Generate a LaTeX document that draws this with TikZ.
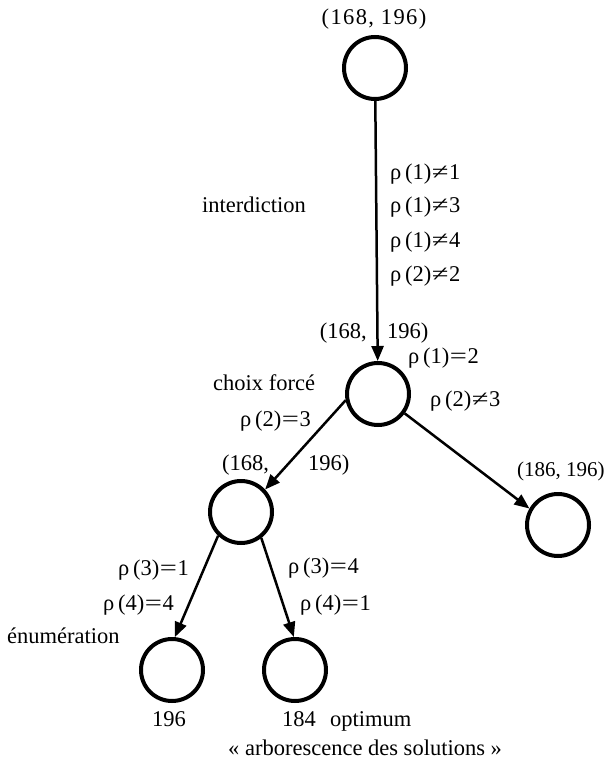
\documentclass[tikz,border=0pt]{standalone}
\usepackage{fontspec}
\usepackage{graphicx}
\setmainfont{Liberation Serif}
\newfontfamily\spacedfont[LetterSpace=6]{Liberation Serif}
\usetikzlibrary{arrows.meta}
\newcommand{\myne}{\kern0.5pt\scalebox{1.35}[1]{≠}\kern0.5pt}
\newcommand{\myeq}{\kern0.5pt\scalebox{1.35}[1]{=}\kern0.5pt}
\tikzset{
  circ/.style={circle, draw, line width=4pt, minimum size=62pt, inner sep=0pt},
  arr/.style={-{Triangle[length=15pt,width=12pt]}, line width=2.5pt},
  lbl/.style={font=\fontsize{22.5}{27}\selectfont, inner sep=0pt},
}
\begin{document}
\begin{tikzpicture}[x=1pt,y=-1pt]
\useasboundingbox (0,0) rectangle (606,759);
% circles
\node[circ] (c1) at (375,68) {};
\node[circ] (c2) at (378,394) {};
\node[circ] (c3) at (241,512) {};
\node[circ] (c4) at (172,670) {};
\node[circ] (c5) at (295,670) {};
\node[circ] (c6) at (558,525) {};
% connectors
\draw[arr] (c1) -- (c2);
\draw[arr] (c2.191) -- (c3.43);
\draw[arr] (c2.324) -- (c6.150);
\draw[arr] (c3.226) -- (c4.85);
\draw[arr] (c3.308) -- (c5.92);
% labels
\node[lbl, anchor=base, font=\spacedfont\fontsize{22.5}{27}\selectfont] (t1) at (374,25) {(168, 196)};
\node[lbl, anchor=base west] (tint) at (202,213) {interdiction};
\node[lbl, anchor=base west] (r1) at (390,180) {ρ\,(1)\myne 1};
\node[lbl, anchor=base west] (r2) at (390,213) {ρ\,(1)\myne 3};
\node[lbl, anchor=base west] (r3) at (390,247) {ρ\,(1)\myne 4};
\node[lbl, anchor=base west] (r4) at (390,281) {ρ\,(2)\myne 2};
\node[lbl, anchor=base east] (t2a) at (367,338) {(168,};
\node[lbl, anchor=base west] (t2b) at (387,338) {196)};
\node[lbl, anchor=base west] (r5) at (408,363) {ρ\,(1)\myeq 2};
\node[lbl, anchor=base west] (tcf) at (213,390) {choix forcé};
\node[lbl, anchor=base west] (r6) at (430,406) {ρ\,(2)\myne 3};
\node[lbl, anchor=base west] (r7) at (240,426) {ρ\,(2)\myeq 3};
\node[lbl, anchor=base west] (t3a) at (222,470) {(168,};
\node[lbl, anchor=base west] (t3b) at (308,470) {196)};
\node[lbl, anchor=base west, font=\fontsize{21}{25}\selectfont] (t6) at (517,476) {(186, 196)};
\node[lbl, anchor=base west] (r8) at (118,575) {ρ\,(3)\myeq 1};
\node[lbl, anchor=base west] (r9) at (103,610) {ρ\,(4)\myeq 4};
\node[lbl, anchor=base west] (r10) at (288,573) {ρ\,(3)\myeq 4};
\node[lbl, anchor=base west] (r11) at (300,610) {ρ\,(4)\myeq 1};
\node[lbl, anchor=base west] (tenum) at (7,643) {énumération};
\node[lbl, anchor=base] (v4) at (169,726) {196};
\node[lbl, anchor=base west] (v5) at (282,726) {184};
\node[lbl, anchor=base west] (topt) at (330,726) {optimum};
\node[lbl, anchor=base west] (tarb) at (228,755) {« arborescence des solutions »};
\end{tikzpicture}
\end{document}
